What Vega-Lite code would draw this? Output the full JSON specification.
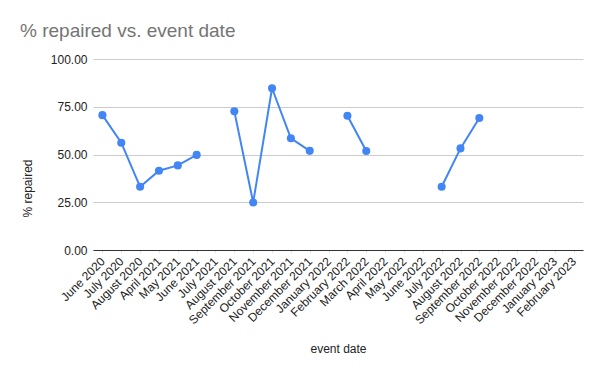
{
  "$schema": "https://vega.github.io/schema/vega-lite/v6.json",
  "width": 490,
  "height": 191,
  "autosize": "none",
  "padding": {"left": 93, "top": 59, "right": 20, "bottom": 126},
  "background": "white",
  "title": {
    "text": "% repaired vs. event date",
    "anchor": "start",
    "frame": "group",
    "dx": -73,
    "offset": 12,
    "font": "Liberation Sans",
    "fontSize": 19,
    "fontWeight": "normal",
    "color": "#757575"
  },
  "config": {
    "view": {"stroke": null},
    "font": "Liberation Sans"
  },
  "data": {
    "values": [
      {"month": "June 2020", "repaired": 70.6},
      {"month": "July 2020", "repaired": 56.2},
      {"month": "August 2020", "repaired": 33.1},
      {"month": "April 2021", "repaired": 41.5},
      {"month": "May 2021", "repaired": 44.3},
      {"month": "June 2021", "repaired": 49.8},
      {"month": "July 2021", "repaired": null},
      {"month": "August 2021", "repaired": 72.6},
      {"month": "September 2021", "repaired": 24.9},
      {"month": "October 2021", "repaired": 84.7},
      {"month": "November 2021", "repaired": 58.5},
      {"month": "December 2021", "repaired": 51.9},
      {"month": "January 2022", "repaired": null},
      {"month": "February 2022", "repaired": 70.3},
      {"month": "March 2022", "repaired": 51.8},
      {"month": "April 2022", "repaired": null},
      {"month": "May 2022", "repaired": null},
      {"month": "June 2022", "repaired": null},
      {"month": "July 2022", "repaired": 33.1},
      {"month": "August 2022", "repaired": 53.2},
      {"month": "September 2022", "repaired": 69.1},
      {"month": "October 2022", "repaired": null},
      {"month": "November 2022", "repaired": null},
      {"month": "December 2022", "repaired": null},
      {"month": "January 2023", "repaired": null},
      {"month": "February 2023", "repaired": null}
    ]
  },
  "encoding": {
    "x": {
      "field": "month",
      "type": "ordinal",
      "sort": null,
      "scale": {"paddingInner": 0, "paddingOuter": 0},
      "axis": {
        "title": "event date",
        "titleFont": "Liberation Sans",
        "titleFontSize": 12,
        "titleFontWeight": "normal",
        "titleColor": "#222222",
        "titleY": 98,
        "titleBaseline": "middle",
        "labelAngle": -45,
        "labelAlign": "right",
        "labelBaseline": "middle",
        "labelFontSize": 12,
        "labelColor": "#222222",
        "labelPadding": 6,
        "labelOverlap": false,
        "ticks": true,
        "tickSize": 3,
        "tickColor": "#e6e6e6",
        "domainColor": "#333333",
        "domainWidth": 1,
        "grid": false
      }
    },
    "y": {
      "field": "repaired",
      "type": "quantitative",
      "scale": {"domain": [0, 100]},
      "axis": {
        "title": "% repaired",
        "titleFont": "Liberation Sans",
        "titleFontSize": 12,
        "titleFontWeight": "normal",
        "titleColor": "#222222",
        "titleX": -66,
        "titleY": 129,
        "titleAngle": -90,
        "titleAlign": "center",
        "titleBaseline": "middle",
        "values": [0, 25, 50, 75, 100],
        "format": ".2f",
        "labelFontSize": 12,
        "labelColor": "#222222",
        "labelPadding": 6,
        "ticks": false,
        "domain": false,
        "grid": true,
        "gridColor": "#cccccc"
      }
    }
  },
  "layer": [
    {
      "mark": {"type": "line", "color": "#4285F4", "strokeWidth": 2, "invalid": "break-paths-show-domains"}
    },
    {
      "mark": {"type": "point", "filled": true, "color": "#4285F4", "opacity": 1, "size": 65}
    }
  ]
}
